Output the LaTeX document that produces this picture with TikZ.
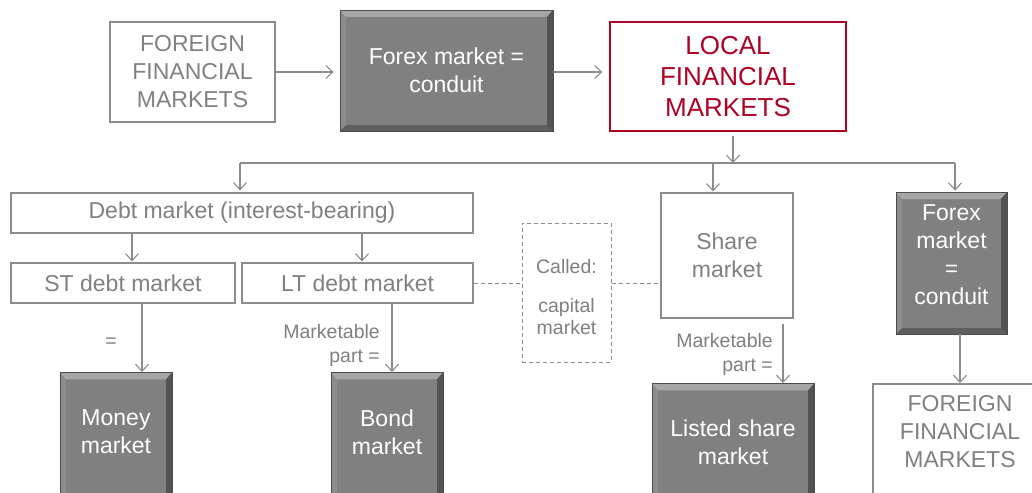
\documentclass[tikz,border=0pt]{standalone}
\usepackage{fontspec}
\setmainfont{Liberation Sans}
\usetikzlibrary{arrows.meta,calc}
\definecolor{txtgray}{RGB}{128,128,128}
\definecolor{linegray}{RGB}{140,140,140}
\definecolor{boxgray}{RGB}{128,128,128}
\definecolor{locred}{RGB}{176,0,38}
\tikzset{
  big/.style={font=\fontsize{23}{28}\selectfont},
  small/.style={font=\fontsize{19.5}{24}\selectfont},
  whitebox/.style={draw=linegray, line width=1.2pt, fill=white, inner sep=0pt, text=txtgray, align=center, big},
  darkbox/.style={draw=black!70, line width=0.8pt, fill=boxgray, inner sep=0pt, text=white, align=center, big,
    path picture={
      \fill[white,opacity=0.30] (path picture bounding box.north west) -- (path picture bounding box.north east)
         -- ([xshift=-6pt,yshift=-7pt]path picture bounding box.north east) -- ([xshift=6pt,yshift=-7pt]path picture bounding box.north west) -- cycle;
      \fill[white,opacity=0.10] (path picture bounding box.north west) -- ([xshift=6pt,yshift=-7pt]path picture bounding box.north west)
         -- ([xshift=6pt,yshift=6pt]path picture bounding box.south west) -- (path picture bounding box.south west) -- cycle;
      \fill[black,opacity=0.35] (path picture bounding box.north east) -- ([xshift=-6pt,yshift=-7pt]path picture bounding box.north east)
         -- ([xshift=-6pt,yshift=6pt]path picture bounding box.south east) -- (path picture bounding box.south east) -- cycle;
      \fill[black,opacity=0.25] (path picture bounding box.south west) -- ([xshift=6pt,yshift=6pt]path picture bounding box.south west)
         -- ([xshift=-6pt,yshift=6pt]path picture bounding box.south east) -- (path picture bounding box.south east) -- cycle;
    }},
  arr/.style={draw=linegray, line width=1.1pt, -{Straight Barb[length=7pt,width=13pt,line width=1.1pt]}},
  conn/.style={draw=linegray, line width=1.1pt},
  dashconn/.style={draw=linegray, line width=1pt, dash pattern=on 4pt off 3pt},
  lbl/.style={text=txtgray, small, align=right, inner sep=0pt},
}
\begin{document}
\begin{tikzpicture}[x=1pt,y=-1pt]
\useasboundingbox (0,0) rectangle (1032,492);
\clip (0,0) rectangle (1032,492);
\fill[white] (0,0) rectangle (1032,492);

% top row
\node[whitebox, line width=2pt, minimum width=165pt, minimum height=100pt] (ftl) at (192.5,72) {FOREIGN\\FINANCIAL\\MARKETS};
\node[darkbox, minimum width=213pt, minimum height=121pt] (fx1) at (446.5,70.5) {Forex market =\\conduit};
\node[whitebox, draw=locred, text=locred, line width=1.3pt, minimum width=236pt, minimum height=109pt,
      font=\fontsize{26}{31}\selectfont] (loc) at (728,76.5) {LOCAL\\FINANCIAL\\MARKETS};

% second row
\node[whitebox, minimum width=462pt, minimum height=40pt] (debt) at (242,213) {Debt market (interest-bearing)};
\node[whitebox, minimum width=132pt, minimum height=125pt] (share) at (727,255.5) {Share\\market};
\node[darkbox, minimum width=111pt, minimum height=142pt] (fx2) at (951.5,263) {};
\node[text=white, big, align=center] (fx2t) at (951.5,255) {Forex\\market\\=\\conduit};

% third row
\node[whitebox, minimum width=224pt, minimum height=40pt] (st) at (123,283) {ST debt market};
\node[whitebox, minimum width=231pt, minimum height=40pt] (lt) at (357.5,283) {LT debt market};
\node[draw=linegray, line width=1pt, dash pattern=on 4pt off 3pt, minimum width=89pt, minimum height=139pt] (called) at (566.5,292.5) {};
\node[text=txtgray, small] (calledt) at (566.5,267) {Called:};
\node[text=txtgray, small, align=center, font=\fontsize{19.5}{22}\selectfont] (capt) at (566.5,317) {capital\\market};

% bottom row (cut by the lower edge)
\node[darkbox, minimum width=112pt, minimum height=130pt, anchor=north] (money) at (116,372) {};
\node[text=white, big, align=center] (moneyt) at (116,432) {Money\\market};
\node[darkbox, minimum width=112pt, minimum height=130pt, anchor=north] (bond) at (387,372) {};
\node[text=white, big, align=center] (bondt) at (387,432) {Bond\\market};
\node[darkbox, minimum width=162pt, minimum height=125pt, anchor=north] (listed) at (733,383) {};
\node[text=white, big, align=center] (listedt) at (733,442) {Listed share\\market};
\node[whitebox, line width=2pt, minimum width=174pt, minimum height=125pt, anchor=north] (fbr) at (960,383) {};
\node[text=txtgray, big, align=center] (fbrt) at (960,432) {FOREIGN\\FINANCIAL\\MARKETS};

% labels
\node[lbl] (eq) at (111,343) {=};
\node[lbl, anchor=east] (mk1) at (380,345.5) {Marketable\\part =};
\node[lbl, anchor=east] (mk2) at (773,354) {Marketable\\part =};

% coordinates
\coordinate (xloc) at (733,0);
\coordinate (bar) at (733,163);
\coordinate (barL) at (240,163);
\coordinate (barM) at (713,163);
\coordinate (barR) at (955,163);
\coordinate (xst) at (132,0);
\coordinate (xlt) at (362,0);
\coordinate (xmoney) at (142,0);
\coordinate (xbond) at (392,0);
\coordinate (xlisted) at (783,0);
\coordinate (xfbr) at (960,0);

% connectors
\draw[arr, shorten >=6pt] (ftl.east) -- (fx1.west |- ftl.east);
\draw[arr, shorten >=7pt] (fx1.east |- ftl.east) -- (loc.west |- ftl.east);
\draw[arr, shorten <=4pt] (loc.south -| xloc) -- (bar);
\draw[conn] (barL) -- (barR);
\draw[arr, shorten >=2pt] (barL) -- (debt.north -| barL);
\draw[arr, shorten >=1pt] (barM) -- (share.north -| barM);
\draw[arr, shorten >=1pt] (barR) -- (fx2.north -| barR);
\draw[arr, shorten >=1pt] (debt.south -| xst) -- (st.north -| xst);
\draw[arr, shorten >=1pt] (debt.south -| xlt) -- (lt.north -| xlt);
\draw[arr] (st.south -| xmoney) -- (money.north -| xmoney);
\draw[arr] (lt.south -| xbond) -- (bond.north -| xbond);
\draw[arr, shorten <=5pt] (share.south -| xlisted) -- (listed.north -| xlisted);
\draw[arr] (fx2.south -| xfbr) -- (fbr.north -| xfbr);
\draw[dashconn] (lt.east) -- (called.west |- lt.east);
\draw[dashconn] (called.east |- lt.east) -- (share.west |- lt.east);
\end{tikzpicture}
\end{document}
